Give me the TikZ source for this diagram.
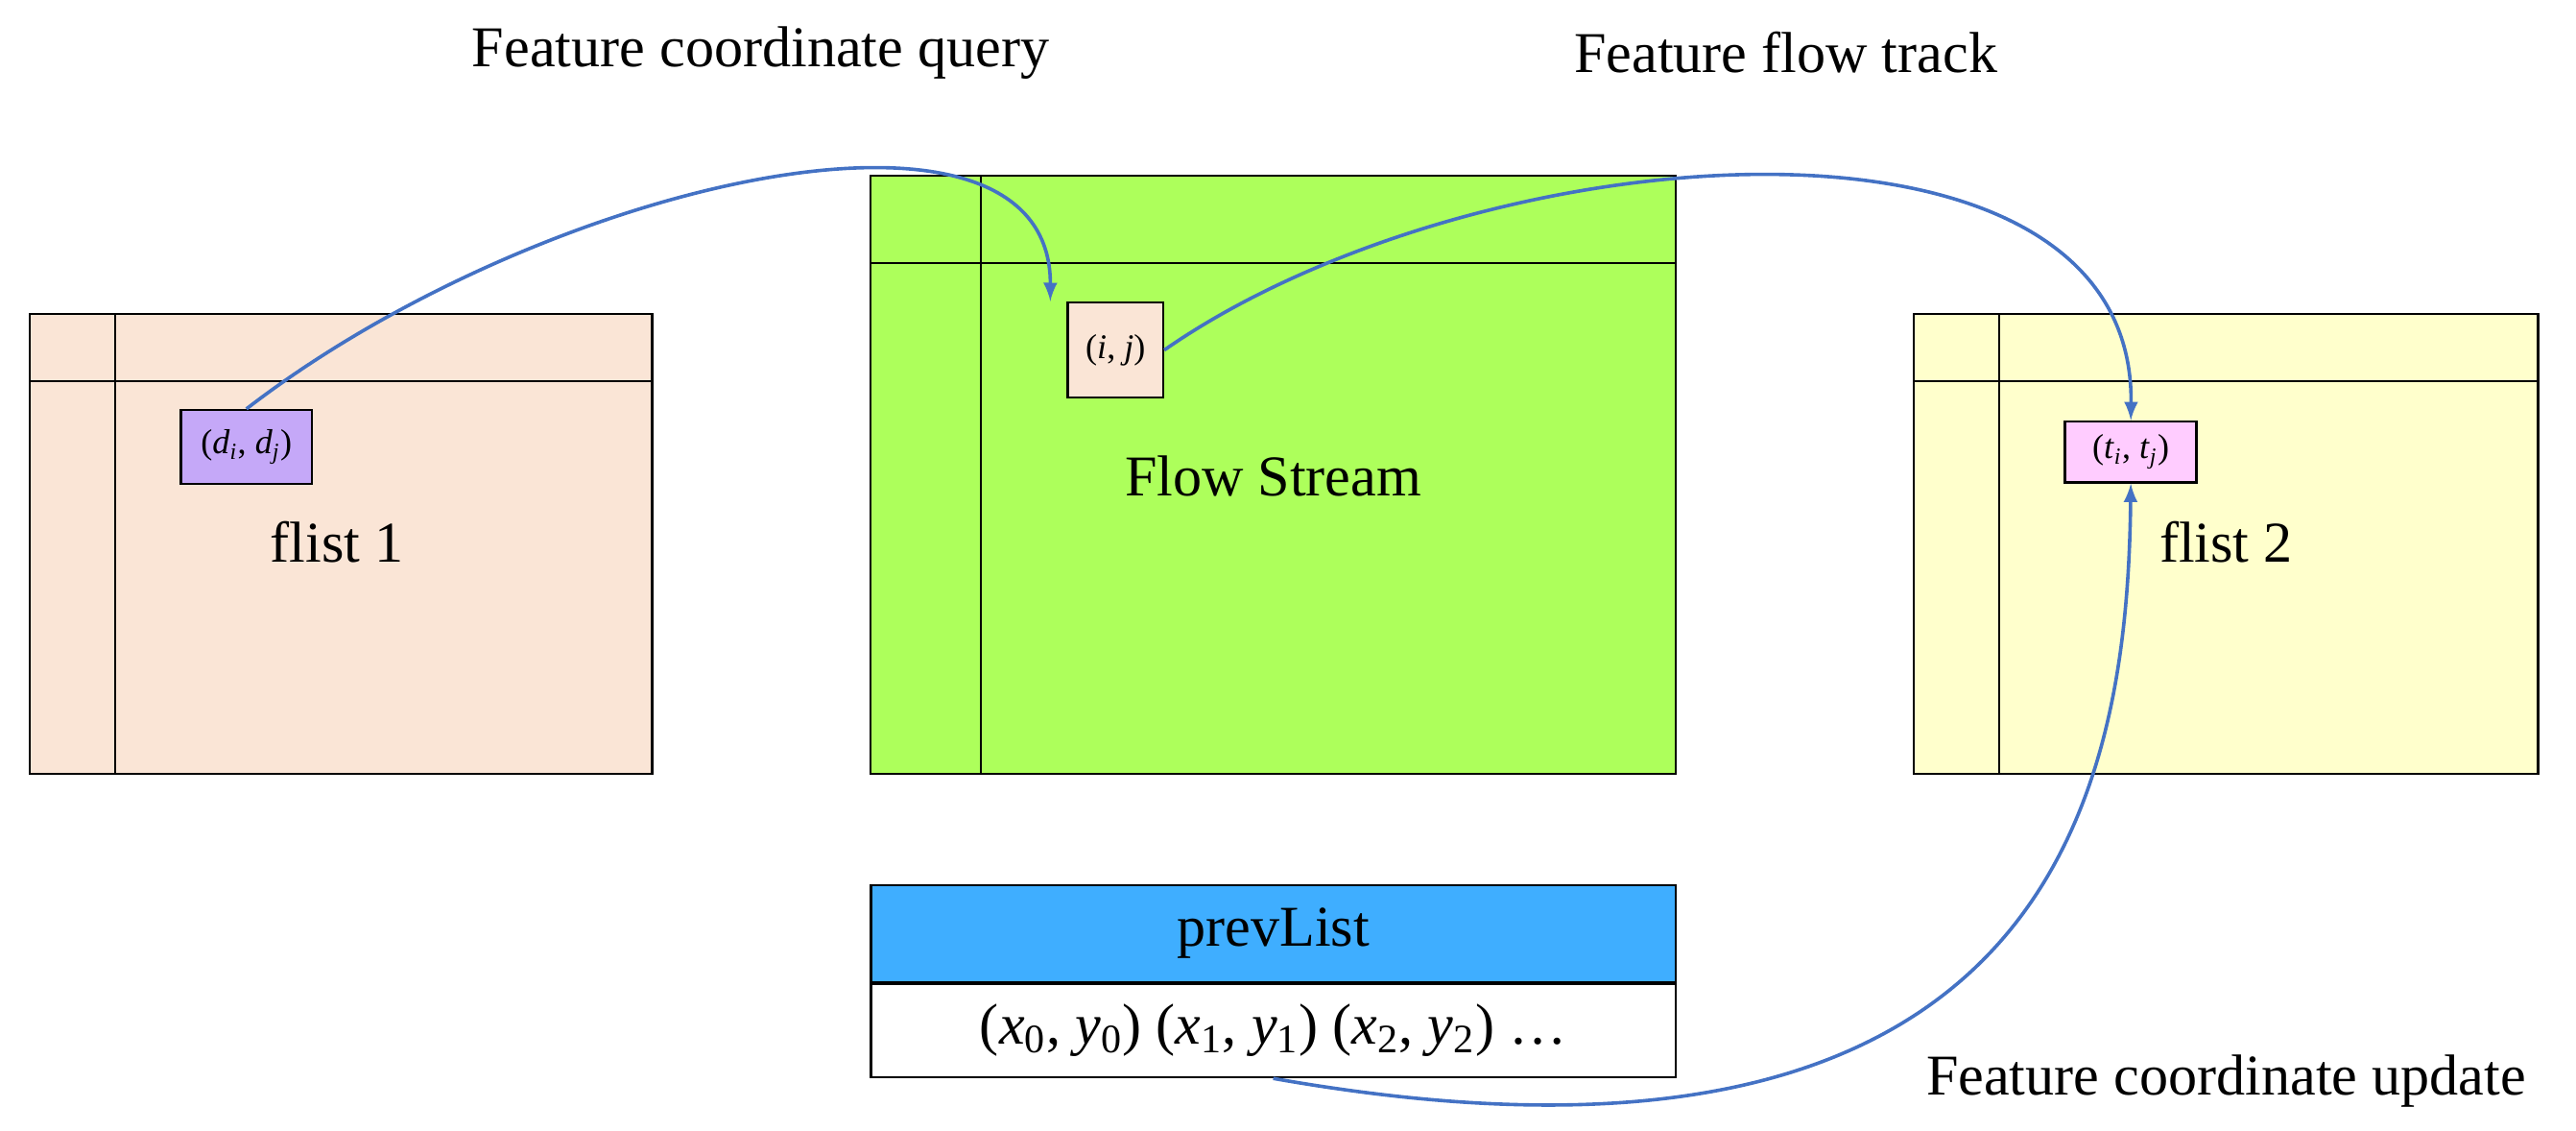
\documentclass[tikz,border=0pt]{standalone}
\usepackage{fontspec}
\setmainfont{Liberation Serif}
\usetikzlibrary{calc}
\definecolor{peach}{RGB}{250,229,214}
\definecolor{lime}{RGB}{173,255,91}
\definecolor{cream}{RGB}{255,255,204}
\definecolor{lavender}{RGB}{197,168,248}
\definecolor{pinkish}{RGB}{255,204,255}
\definecolor{skyblue}{RGB}{63,174,255}
\definecolor{linkblue}{RGB}{68,114,196}
\newcommand{\iv}[1]{\textit{#1}}
\tikzset{
  panel/.style={draw=black,line width=0.8pt},
  cell/.style={draw=black,line width=0.8pt,minimum width=#1,inner sep=0pt,font=\fontsize{12}{14}\selectfont},
  big/.style={font=\fontsize{20}{24}\selectfont},
  link/.style={draw=linkblue,line width=1.2pt,-latex}
}
\begin{document}
\begin{tikzpicture}[x=0.02cm,y=-0.02cm]
\useasboundingbox (0,0) rectangle (1568,688);
% flist 1
\draw[panel,fill=peach] (18,191) rectangle (397,471);
\draw[panel] (70,191) -- (70,471);
\draw[panel] (18,232) -- (397,232);
\draw (150,272) node[cell=1.6cm,minimum height=0.9cm,fill=lavender] (dij) {(\iv{d}\textsubscript{\iv{i}}, \iv{d}\textsubscript{\iv{j}})};
\draw (205,330) node[big] (fl1) {flist 1};
% flow stream
\draw[panel,fill=lime] (530,107) rectangle (1020,471);
\draw[panel] (597,107) -- (597,471);
\draw[panel] (530,160) -- (1020,160);
\draw (679,213) node[cell=1.16cm,minimum height=1.16cm,fill=peach] (ij) {(\iv{i}, \iv{j})};
\draw (775,290) node[big] (fs) {Flow Stream};
% flist 2
\draw[panel,fill=cream] (1165,191) rectangle (1545,471);
\draw[panel] (1217,191) -- (1217,471);
\draw[panel] (1165,232) -- (1545,232);
\draw (1297,275) node[cell=1.6cm,minimum height=0.74cm,fill=pinkish] (tij) {(\iv{t}\textsubscript{\iv{i}}, \iv{t}\textsubscript{\iv{j}})};
\draw (1355,330) node[big] (fl2) {flist 2};
% prevList
\draw (775,568) node[panel,fill=skyblue,minimum width=9.8cm,minimum height=1.18cm,inner sep=0pt,big] (prev) {prevList};
\draw (775,627) node[panel,fill=white,minimum width=9.8cm,minimum height=1.14cm,inner sep=0pt,big] (pts) {(\iv{x}\textsubscript{0}, \iv{y}\textsubscript{0}) (\iv{x}\textsubscript{1}, \iv{y}\textsubscript{1}) (\iv{x}\textsubscript{2}, \iv{y}\textsubscript{2}) \dots};
% labels
\draw (463,32) node[big] (q) {Feature coordinate query};
\draw (1087,32) node[big] (t) {Feature flow track};
\draw (1355,658) node[big] (u) {Feature coordinate update};
% links
\draw[link] (dij.north) .. controls (330,110) and (640,40) .. ([xshift=-0.2cm]ij.north west);
\draw[link] (ij.east) .. controls (900,80) and (1300,50) .. (tij.north);
\draw[link] (pts.south) .. controls (1250,740) and (1295,480) .. (tij.south);
\end{tikzpicture}
\end{document}
